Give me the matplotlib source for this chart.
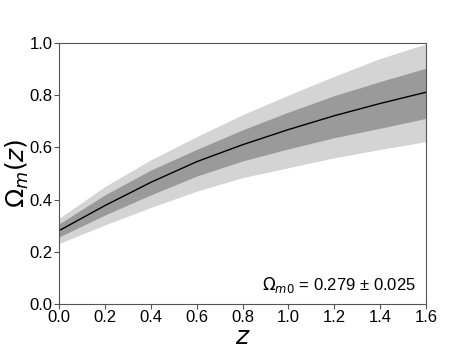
import matplotlib
matplotlib.use('Agg')
import matplotlib.pyplot as plt

# Valeurs
z = [0.0, 0.2, 0.4, 0.6, 0.8, 1.0, 1.2, 1.4, 1.6]
om_mid = [0.281, 0.377, 0.466, 0.545, 0.610, 0.668, 0.721, 0.768, 0.811]
om_1s_hi = [0.307, 0.418, 0.513, 0.592, 0.667, 0.735, 0.798, 0.852, 0.903]
om_1s_lo = [0.257, 0.341, 0.418, 0.490, 0.548, 0.594, 0.637, 0.673, 0.711]
om_2s_hi = [0.328, 0.450, 0.552, 0.641, 0.725, 0.800, 0.872, 0.940, 0.996]
om_2s_lo = [0.232, 0.303, 0.370, 0.432, 0.484, 0.522, 0.560, 0.592, 0.622]

xticks = [0.0, 0.2, 0.4, 0.6, 0.8, 1.0, 1.2, 1.4, 1.6]
yticks = [0.0, 0.2, 0.4, 0.6, 0.8, 1.0]

FONT = 'Liberation Sans'
LIGHT = '#d4d4d4'
DARK = '#9a9a9a'
SPINE = '#555555'

fig = plt.figure(figsize=(4.74, 3.54), dpi=100)
ax = fig.add_axes([0.1245, 0.141, 0.7745, 0.738])

ax.fill_between(z, om_2s_lo, om_2s_hi, color=LIGHT, lw=0)
ax.fill_between(z, om_1s_lo, om_1s_hi, color=DARK, lw=0)
ax.plot(z, om_mid, color='black', lw=1)

ax.set_xlim(0, 1.6)
ax.set_ylim(0, 1.0)
ax.set_xticks(xticks)
ax.set_yticks(yticks)
ax.set_xticklabels(['%.1f' % v for v in xticks], fontfamily=FONT, fontsize=12)
ax.set_yticklabels(['%.1f' % v for v in yticks], fontfamily=FONT, fontsize=12)
ax.tick_params(color=SPINE, length=3.5, pad=1)
for s in ax.spines.values():
    s.set_color(SPINE)

ax.set_xlabel('$z$', fontsize=18, labelpad=0)
ax.set_ylabel(r'$\Omega_m(z)$', fontsize=18, labelpad=-1)

ax.text(0.973, 0.073, r'$\Omega_{m0}$ = 0.279 ± 0.025', transform=ax.transAxes,
        ha='right', va='center', fontsize=12, fontfamily=FONT)

fig.savefig('out.png', dpi=100)
